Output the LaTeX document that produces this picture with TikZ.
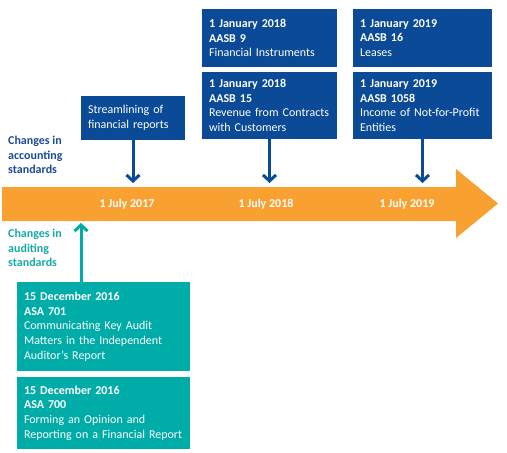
\documentclass[tikz,border=0pt]{standalone}
\usepackage{fontspec}
\setmainfont{Carlito}
\usetikzlibrary{arrows.meta}
\definecolor{boxblue}{RGB}{10,74,150}
\definecolor{barorange}{RGB}{248,160,48}
\definecolor{boxteal}{RGB}{0,172,167}
\definecolor{labelblue}{RGB}{28,74,152}
\definecolor{labelteal}{RGB}{22,170,165}
\tikzset{
  every node/.style={font=\fontsize{12}{14.65}\selectfont},
  bluebox/.style={fill=boxblue, text=white, inner xsep=7pt, inner ysep=0pt, align=left, anchor=center},
  tealbox/.style={fill=boxteal, text=white, inner xsep=7pt, inner ysep=0pt, align=left, anchor=center},
  datelabel/.style={text=white, font=\fontsize{12}{14.65}\selectfont\bfseries, inner sep=0pt},
  sidelabel/.style={font=\fontsize{12}{14.65}\selectfont\bfseries, align=left, anchor=west, inner sep=0pt},
  bluearrow/.style={draw=boxblue, line width=3pt, -{Straight Barb[length=6pt,width=13pt]}},
  tealarrow/.style={draw=boxteal, line width=3pt, -{Straight Barb[length=6pt,width=13pt]}},
}
\begin{document}
\begin{tikzpicture}[x=1pt,y=-1pt]
\useasboundingbox (0,0) rectangle (507,453);
% orange timeline arrow
\fill[barorange] (2,187) -- (456,187) -- (456,169) -- (498,203.5) -- (456,238) -- (456,221) -- (2,221) -- cycle;
\node[datelabel] (d17) at (127,204) {1 July 2017};
\node[datelabel] (d18) at (266,204) {1 July 2018};
\node[datelabel] (d19) at (407,204) {1 July 2019};
% side labels
\node[sidelabel, text=labelblue] (acc) at (8,155) {Changes in\\accounting\\standards};
\node[sidelabel, text=labelteal] (aud) at (8,248) {Changes in\\auditing\\standards};
% blue boxes
\node[bluebox, minimum width=135pt, minimum height=58pt, text width=121pt] (aasb9) at (269.5,38)
  {\textbf{1 January 2018}\\\textbf{AASB 9}\\Financial Instruments};
\node[bluebox, minimum width=135pt, minimum height=67pt, text width=121pt] (aasb15) at (269.5,105.5)
  {\textbf{1 January 2018}\\\textbf{AASB 15}\\Revenue from Contracts\\with Customers};
\node[bluebox, minimum width=139pt, minimum height=58pt, text width=125pt] (aasb16) at (422.5,38)
  {\textbf{1 January 2019}\\\textbf{AASB 16}\\Leases};
\node[bluebox, minimum width=139pt, minimum height=67pt, text width=125pt] (aasb1058) at (422.5,105.5)
  {\textbf{1 January 2019}\\\textbf{AASB 1058}\\Income of Not-for-Profit\\Entities};
\node[bluebox, minimum width=104pt, minimum height=44pt, text width=90pt] (stream) at (133,118)
  {Streamlining of\\financial reports};
% teal boxes
\node[tealbox, minimum width=173pt, minimum height=89pt, text width=159pt] (asa701) at (103.5,326.5)
  {\textbf{15 December 2016}\\\textbf{ASA 701}\\Communicating Key Audit\\Matters in the Independent\\Auditor’s Report};
\node[tealbox, minimum width=173pt, minimum height=72pt, text width=159pt] (asa700) at (103.5,413)
  {\textbf{15 December 2016}\\\textbf{ASA 700}\\Forming an Opinion and\\Reporting on a Financial Report};
% arrow end points on the timeline
\coordinate (t17) at (133,183);
\coordinate (t18) at (269.5,183);
\coordinate (t19) at (422.5,183);
\coordinate (tA) at (81,223);
\coordinate (sA) at (81,282);
% connectors
\draw[bluearrow] (stream.south) -- (t17);
\draw[bluearrow] (aasb15.south) -- (t18);
\draw[bluearrow] (aasb1058.south) -- (t19);
\draw[tealarrow] (sA) -- (tA);
\end{tikzpicture}
\end{document}
